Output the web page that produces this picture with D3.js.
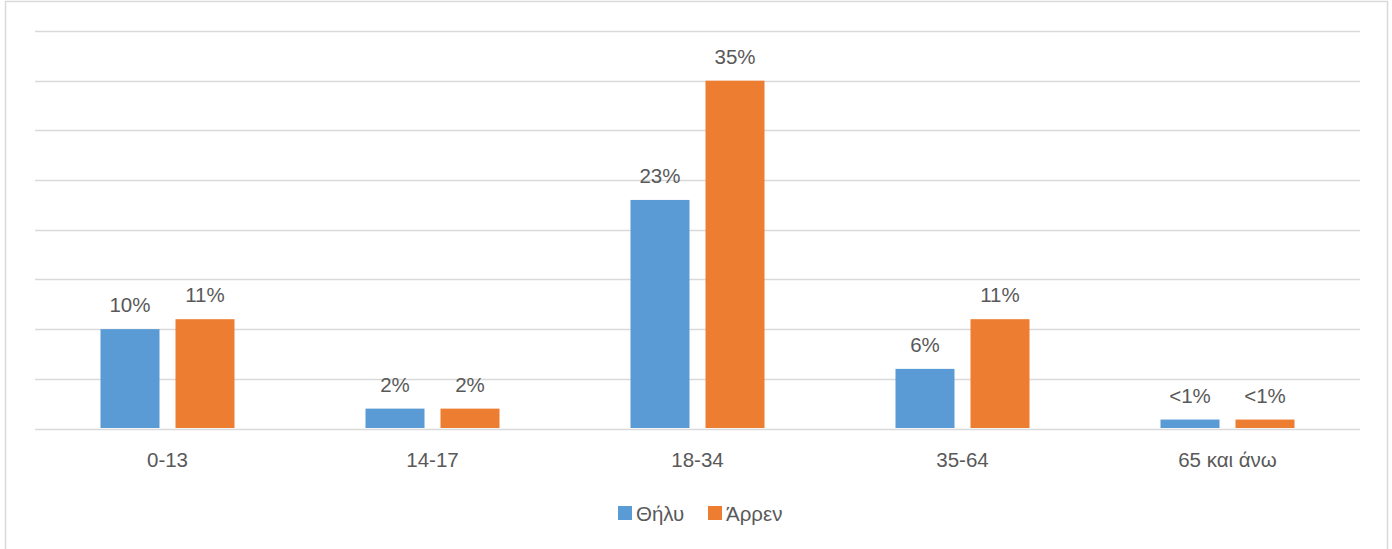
<!DOCTYPE html>
<html><head><meta charset="utf-8">
<script src="https://cdn.jsdelivr.net/npm/d3@7"></script>
<style>body{margin:0;background:#fff;}svg{display:block;}text{font-family:"Liberation Sans",Arial,sans-serif;fill:#595959;}</style>
</head><body>
<script>
const categories = ["0-13","14-17","18-34","35-64","65 και άνω"];
const seriesNames = ["Θήλυ","Άρρεν"];
const female = [10, 2, 23, 6, 0.9];
const male = [11, 2, 35, 11, 0.9];
const femaleLabels = ["10%","2%","23%","6%","<1%"];
const maleLabels = ["11%","2%","35%","11%","<1%"];
const yTicks = [0,5,10,15,20,25,30,35,40];
const colors = ["#5B9BD5","#ED7D31"];

const W = 1392, H = 549;
const svg = d3.select("body").append("svg").attr("width", W).attr("height", H);

svg.append("path")
  .attr("d", `M5.5,${H+5} V1.5 H1387.5 V${H+5}`)
  .attr("fill","none").attr("stroke","#d9d9d9").attr("stroke-width",1.5);

const x0 = d3.scaleBand().domain(categories).range([35,1360]).padding(0);
const x1 = d3.scaleBand().domain(seriesNames).range([0, x0.bandwidth()]).paddingInner(0.2133).paddingOuter(0.8733);
const y = d3.scaleLinear().domain([0,40]).range([428.5,31]);

svg.append("g").selectAll("line").data(yTicks).join("line")
  .attr("x1",35).attr("x2",1360)
  .attr("y1",d=>Math.round(y(d))+0.5).attr("y2",d=>Math.round(y(d))+0.5)
  .attr("stroke","#d9d9d9").attr("stroke-width",1.3);

const data = [female, male];
const labels = [femaleLabels, maleLabels];
const fs = 20.5;
seriesNames.forEach((s,si)=>{
  const g = svg.append("g");
  g.selectAll("rect").data(categories).join("rect")
    .attr("x", c=>x0(c)+x1(s))
    .attr("width", x1.bandwidth())
    .attr("y", (c,i)=>y(data[si][i]))
    .attr("height", (c,i)=>y(0)-y(data[si][i])-0.5)
    .attr("fill", colors[si]);
  g.selectAll("text").data(categories).join("text")
    .attr("x", c=>x0(c)+x1(s)+x1.bandwidth()/2)
    .attr("y", (c,i)=>y(data[si][i])-17)
    .attr("text-anchor","middle").attr("font-size",fs)
    .text((c,i)=>labels[si][i]);
});

// category axis labels
svg.append("g").selectAll("text").data(categories).join("text")
  .attr("x", c=>x0(c)+x0.bandwidth()/2)
  .attr("y", 467)
  .attr("text-anchor","middle").attr("font-size",fs)
  .text(c=>c);

// legend
const legend = svg.append("g");
const legendItems = [{x:618, tx:636},{x:708, tx:726}];
seriesNames.forEach((s,i)=>{
  legend.append("rect").attr("x",legendItems[i].x).attr("y",506).attr("width",14).attr("height",14).attr("fill",colors[i]);
  legend.append("text").attr("x",legendItems[i].tx).attr("y",520.5).attr("font-size",fs).text(s);
});
</script>
</body></html>
